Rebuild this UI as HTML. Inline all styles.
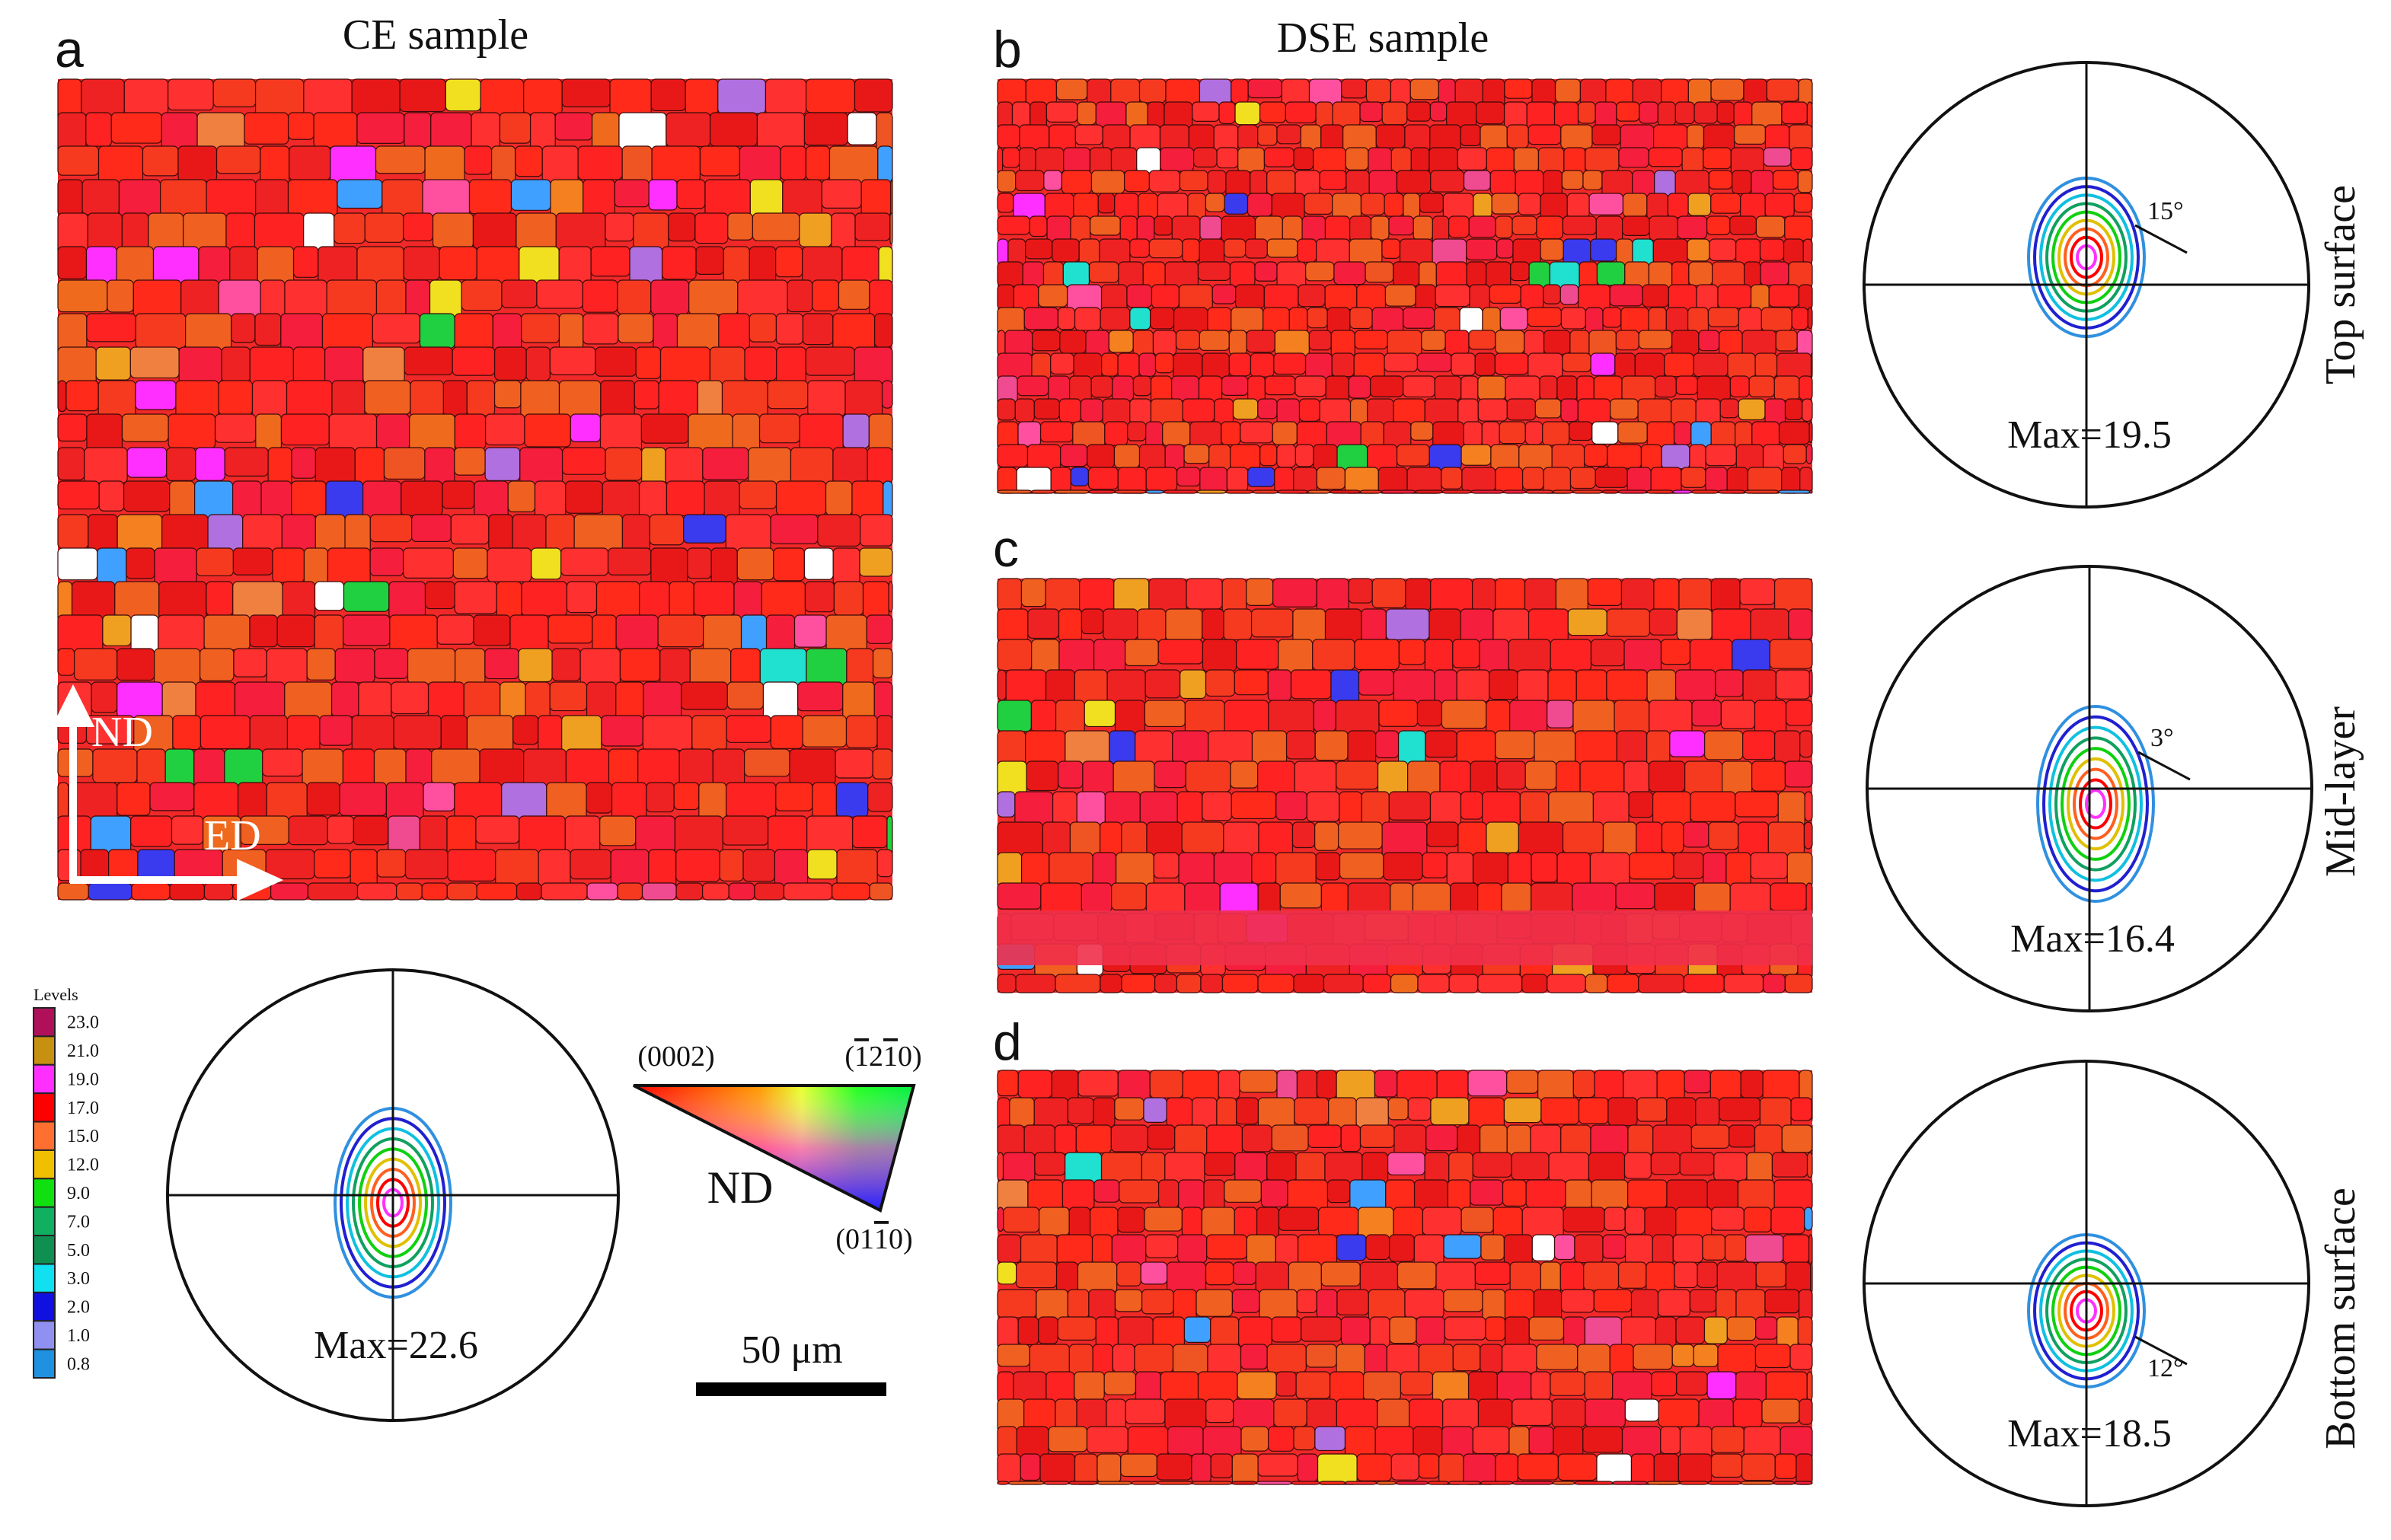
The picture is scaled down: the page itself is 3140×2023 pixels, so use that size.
<!DOCTYPE html>
<html><head><meta charset="utf-8"><style>
html,body{margin:0;padding:0;background:#fff}
svg{display:block}
text{font-family:"Liberation Serif",serif;fill:#111}
</style></head><body>
<svg id="fig" width="3140" height="2023" viewBox="0 0 1570 1011.5" xmlns="http://www.w3.org/2000/svg">
<defs>
<linearGradient id="ipfg" x1="0" y1="0" x2="1" y2="0">
<stop offset="0" stop-color="#ff0000"/><stop offset="0.45" stop-color="#ff9900"/><stop offset="0.6" stop-color="#e8ff30"/><stop offset="0.8" stop-color="#20ff20"/><stop offset="1" stop-color="#00ee40"/></linearGradient>
<linearGradient id="ipfv" x1="0" y1="0" x2="0" y2="1">
<stop offset="0" stop-color="#fff" stop-opacity="0"/><stop offset="0.5" stop-color="#ff30ff" stop-opacity="0.6"/><stop offset="1" stop-color="#2020ff" stop-opacity="1"/></linearGradient>
</defs>
<g id="maps"></g>
<g>
<text x="36" y="44" font-size="34" style="font-family:'Liberation Sans',sans-serif">a</text>
<text x="652" y="44" font-size="34" style="font-family:'Liberation Sans',sans-serif">b</text>
<text x="652" y="372" font-size="34" style="font-family:'Liberation Sans',sans-serif">c</text>
<text x="652" y="696" font-size="34" style="font-family:'Liberation Sans',sans-serif">d</text>
<text x="286" y="32" font-size="28" text-anchor="middle">CE sample</text>
<text x="908" y="34" font-size="28" text-anchor="middle">DSE sample</text>
</g>
<g stroke="#fff" stroke-width="5" fill="#fff">
<line x1="48" y1="580" x2="48" y2="472"/><polygon points="38,475 58,475 48,455"/>
<line x1="46" y1="578" x2="160" y2="578"/><polygon points="158,568 158,588 180,578"/>
</g>
<text x="60" y="490" font-size="28" style="fill:#fff">ND</text>
<text x="134" y="558" font-size="28" style="fill:#fff">ED</text>
<g id="legend"><text x="22" y="657" font-size="11">Levels</text></g>
<g id="poles"></g>
<g>
<polygon points="416,713 600,713 578,795" fill="url(#ipfg)"/>
<polygon points="416,713 600,713 578,795" fill="url(#ipfv)"/>
<polygon points="416,713 600,713 578,795" fill="none" stroke="#111" stroke-width="2"/>
<text x="444" y="700" font-size="19" text-anchor="middle">(0002)</text>
<text x="580" y="700" font-size="19" text-anchor="middle">(<tspan text-decoration="overline">1</tspan>2<tspan text-decoration="overline">1</tspan>0)</text>
<text x="486" y="790" font-size="30" text-anchor="middle">ND</text>
<text x="574" y="820" font-size="19" text-anchor="middle">(01<tspan text-decoration="overline">1</tspan>0)</text>
</g>
<g>
<text x="520" y="895" font-size="26" text-anchor="middle">50 μm</text>
<rect x="457" y="908" width="125" height="9" fill="#000"/>
</g>
<g>
<text font-size="28" text-anchor="middle" transform="translate(1546,187) rotate(-90)">Top surface</text>
<text font-size="28" text-anchor="middle" transform="translate(1546,520) rotate(-90)">Mid-layer</text>
<text font-size="28" text-anchor="middle" transform="translate(1546,866) rotate(-90)">Bottom surface</text>
</g>
</svg>
<script>
const NS='http://www.w3.org/2000/svg';
function mk(t,a,p){const e=document.createElementNS(NS,t);for(const k in a)e.setAttribute(k,a[k]);p.appendChild(e);return e;}
let seed=7;function rnd(){seed=(seed*16807)%2147483647;return seed/2147483647;}
const reds=['#f22','#ff2a1a','#e81818','#f53a20','#ff3030','#ee2222','#f51e3c'];
const others=['#f06a1e','#f58020','#ee5522','#f04a90','#ff50a0','#3a3aee','#20d040','#20e0d0','#f0e020','#b070e0','#ff30ff','#f0a020','#40a0ff','#f08040','#ffffff'];
function grains(x,y,w,h,cs,name,pr){
  const g=mk('g',{},document.getElementById('maps'));
  
  
  mk('rect',{x:x,y:y,width:w,height:h,fill:'#f02828'},g);
  const rows=Math.ceil(h/cs);
  for(let r=0;r<rows;r++){
    let cx=x-(r%2)*cs/2;
    while(cx<x+w){
      const cw=cs*(0.7+rnd()*0.8);
      const ch=cs*(0.8+rnd()*0.5);
      const x0=Math.max(x,cx),y0=y+r*cs,x1=Math.min(x+w,cx+cw),y1=Math.min(y+h,y0+ch);
      const u=rnd();
      const col=u<pr?reds[Math.floor(rnd()*reds.length)]:(u<pr+0.1?'#f06020':others[Math.floor(rnd()*others.length)]);
      if(x1>x0&&y1>y0){const e=mk('rect',{x:x0,y:y0,width:x1-x0,height:y1-y0,rx:3,fill:col,stroke:'#3a0a0a','stroke-width':0.6},g);}
      cx+=cw;
    }
  }
  return g;
}
grains(38,52,548,539,22,'ebsd-map-ce',0.76);
grains(655,52,535,272,15,'ebsd-map-dse-top',0.8);
const gm=grains(655,380,535,272,20,'ebsd-map-dse-mid',0.8);
const band=mk('rect',{x:655,y:598,width:535,height:36,fill:'#f0304a',opacity:0.9},gm);

grains(655,703,535,272,18,'ebsd-map-dse-bottom',0.8);

const levelValues=['23.0','21.0','19.0','17.0','15.0','12.0','9.0','7.0','5.0','3.0','2.0','1.0','0.8'];
const levelColors=['#b0105a','#c89010','#ff30ff','#ff0000','#ff7030','#f0c000','#10e010','#10b060','#109050','#10e0f0','#1010e0','#9090f0','#2090e0'];
const lg=document.getElementById('legend');
const lh=(905-662)/levelValues.length;
levelValues.forEach((v,i)=>{
  const r=mk('rect',{x:22,y:662+i*lh,width:14,height:lh,fill:levelColors[i],stroke:'#222','stroke-width':1},lg);
  
  const t=mk('text',{x:44,y:662+i*lh+lh/2+4,'font-size':12},lg);t.textContent=v;
});
const poleFigs=[
 {cx:258,cy:785,r:148,max:'Max=22.6',dx:0,dy:5,sx:36,sy:60,ang:null},
 {cx:1370,cy:187,r:146,max:'Max=19.5',dx:0,dy:-18,sx:36,sy:50,ang:'15°',ay:152},
 {cx:1372,cy:518,r:146,max:'Max=16.4',dx:4,dy:10,sx:36,sy:62,ang:'3°',ay:498},
 {cx:1370,cy:843,r:146,max:'Max=18.5',dx:0,dy:18,sx:36,sy:48,ang:'12°',ay:882}];
const contourCols=['#3090e0','#2020d0','#10c0e0','#10a060','#10d010','#e0c000','#ff6020','#ff0000','#ff30ff'];
const pg=document.getElementById('poles');
poleFigs.forEach((p,k)=>{
  const g=mk('g',{},pg);
  
  contourCols.forEach((c,i)=>{const f=1-i/contourCols.length;
    mk('ellipse',{cx:p.cx+p.dx,cy:p.cy+p.dy,rx:p.sx*f+2,ry:p.sy*f+2,fill:'none',stroke:c,'stroke-width':2},g);});
  mk('circle',{cx:p.cx,cy:p.cy,r:p.r,fill:'none',stroke:'#111','stroke-width':2},g);
  mk('line',{x1:p.cx-p.r,y1:p.cy,x2:p.cx+p.r,y2:p.cy,stroke:'#111','stroke-width':1.5},g);
  mk('line',{x1:p.cx,y1:p.cy-p.r,x2:p.cx,y2:p.cy+p.r,stroke:'#111','stroke-width':1.5},g);
  const t=mk('text',{x:p.cx+2,y:p.cy+107,'font-size':26,'text-anchor':'middle'},g);t.textContent=p.max;
  if(p.ang){mk('line',{x1:p.cx+32,y1:p.ay-4,x2:p.cx+66,y2:p.ay+14,stroke:'#111','stroke-width':1.5},g);
    const a=mk('text',{x:p.cx+40,y:p.ay-8+(k==3?30:0),'font-size':17},g);a.textContent=p.ang;}
});
</script>
</body></html>
